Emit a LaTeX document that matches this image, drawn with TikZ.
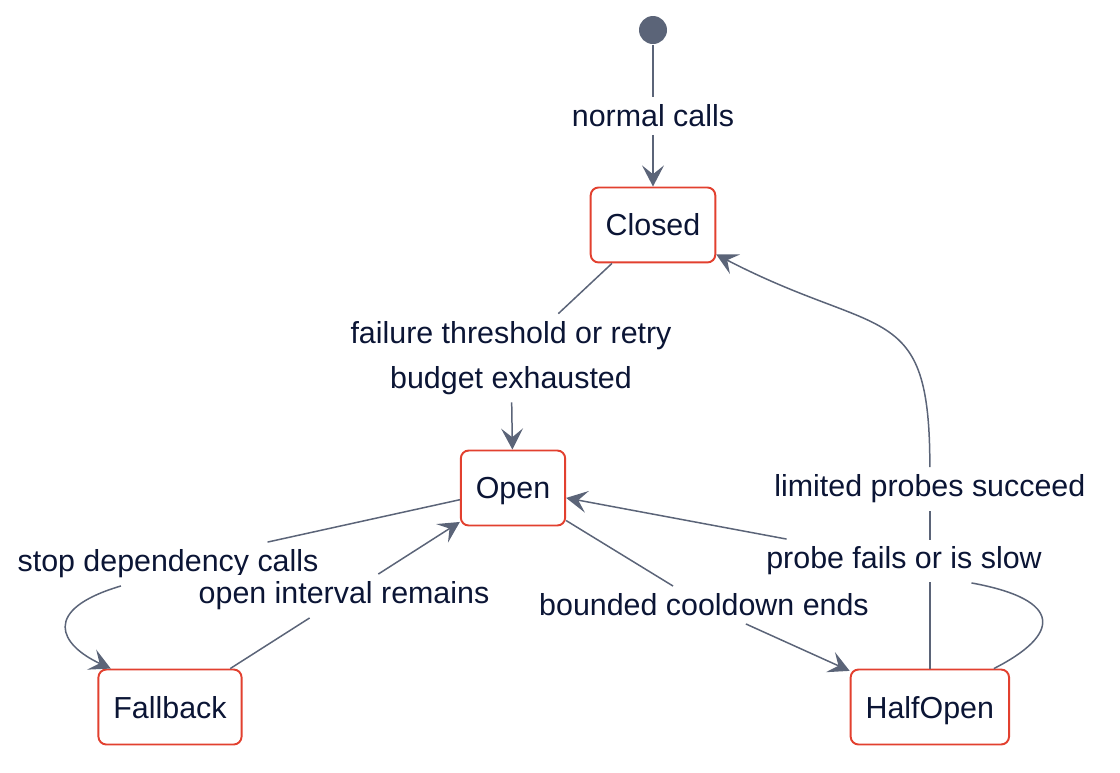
\documentclass[tikz,border=0pt]{standalone}
\usepackage{fontspec}
\setmainfont{Liberation Sans}
\usepackage{tikz}
\usetikzlibrary{shapes, arrows.meta, positioning}
\definecolor{edgegray}{HTML}{5B6478}
\definecolor{statered}{HTML}{E2402F}
\definecolor{inkblue}{HTML}{0B1535}
\tikzstyle{state}=[draw=statered,line width=1.1pt,fill=white,rectangle,rounded corners=4.5pt,minimum height=1.5cm,inner xsep=0.3cm,text depth=0pt]
\tikzstyle{lbl}=[fill=white,inner sep=4pt]
\tikzstyle{startdot}=[circle,fill=edgegray,inner sep=0pt,minimum size=0.56cm]
\tikzstyle{every node}=[font=\fontsize{17.3}{25.5}\selectfont,text=inkblue]

\begin{document}
\begin{tikzpicture}[x=0.02cm,y=-0.02cm,>={Stealth[length=12pt,width=12.5pt,inset=5pt]},
  color=edgegray,line width=0.85pt]
  \useasboundingbox (0,0) rectangle (1120,772);
  \node[startdot] (start) at (653,30) {};
  \node[lbl, below of=start, node distance=1.72cm] (lnormal) {normal calls};
  \node[state, below of=lnormal, node distance=2.18cm] (closed) {Closed};
  \node[lbl, align=center] (lfail) at (511,358) {failure threshold or retry\\budget exhausted};
  \node[state] (open) at (513,488) {Open};
  \node[state] (fallback) at (170,707) {Fallback};
  \node[state, right of=fallback, node distance=15.2cm] (halfopen) {HalfOpen};
  \node[lbl, above of=halfopen, node distance=4.36cm] (llimited) {limited probes succeed};
  % this one runs behind the probe label
  \draw (halfopen) -- (llimited);
  \node[lbl] (lprobe) at (904,561) {probe fails or is slow};
  \node[lbl] (lbounded) at (704,605) {bounded cooldown ends};
  \node[lbl] (lstop) at (168,564) {stop dependency calls};
  \node[lbl] (lopen) at (344,596) {open interval remains};
  \draw (start) -- (lnormal);
  \draw[->] (lnormal) -- (closed);
  \draw (closed) -- (lfail);
  \draw[->] (lfail) -- (open);
  \draw[->] (llimited.north) .. controls (930,298) and (881,340) .. (closed.-25);
  \draw (halfopen.31) .. controls (1060,635) and (1065,600) .. (lprobe.-18);
  \draw[->] (lprobe) -- (open);
  \draw (open) -- (lbounded);
  \draw[->] (lbounded) -- (halfopen);
  \draw (open) -- (lstop);
  \draw[->] (lstop.-155) .. controls (40,610) and (60,645) .. (fallback.147);
  \draw (fallback) -- (lopen);
  \draw[->] (lopen) -- (open);
\end{tikzpicture}
\end{document}
